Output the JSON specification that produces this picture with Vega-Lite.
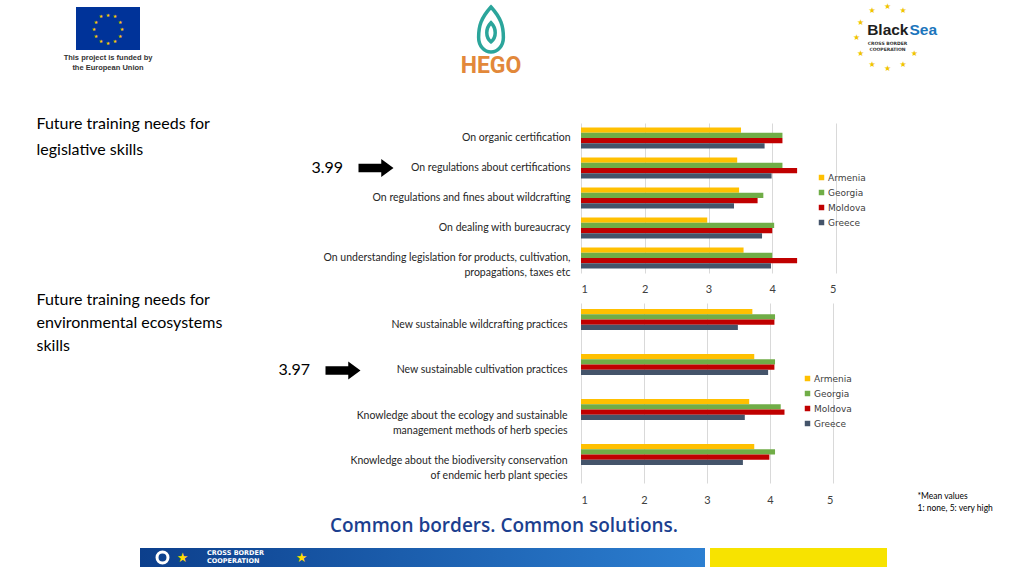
{
  "$schema": "https://vega.github.io/schema/vega-lite/v6.json",
  "background": "white",
  "padding": 0,
  "columns": 6,
  "spacing": {"row": 30, "column": 0},
  "bounds": "flush",
  "align": "each",
  "resolve": {"scale": {"color": "independent", "x": "independent", "y": "independent"}, "legend": {"color": "independent"}},
  "config": {"view": {"stroke": null}, "font": "Lato"},
  "datasets": {
    "stars": [{"star": 0}, {"star": 1}, {"star": 2}, {"star": 3}, {"star": 4}, {"star": 5}, {"star": 6}, {"star": 7}, {"star": 8}, {"star": 9}, {"star": 10}, {"star": 11}],
    "bsStars": [{"star": 0}, {"star": 1}, {"star": 4}, {"star": 5}, {"star": 6}, {"star": 7}, {"star": 8}, {"star": 9}, {"star": 10}, {"star": 11}],
    "legislative": [
      {"item": "On organic certification", "country": "Armenia", "value": 3.51},
      {"item": "On organic certification", "country": "Georgia", "value": 4.16},
      {"item": "On organic certification", "country": "Moldova", "value": 4.16},
      {"item": "On organic certification", "country": "Greece", "value": 3.88},
      {"item": "On regulations about certifications", "country": "Armenia", "value": 3.45},
      {"item": "On regulations about certifications", "country": "Georgia", "value": 4.16},
      {"item": "On regulations about certifications", "country": "Moldova", "value": 4.39},
      {"item": "On regulations about certifications", "country": "Greece", "value": 3.99},
      {"item": "On regulations and fines about wildcrafting", "country": "Armenia", "value": 3.48},
      {"item": "On regulations and fines about wildcrafting", "country": "Georgia", "value": 3.86},
      {"item": "On regulations and fines about wildcrafting", "country": "Moldova", "value": 3.77},
      {"item": "On regulations and fines about wildcrafting", "country": "Greece", "value": 3.40},
      {"item": "On dealing with bureaucracy", "country": "Armenia", "value": 2.98},
      {"item": "On dealing with bureaucracy", "country": "Georgia", "value": 4.03},
      {"item": "On dealing with bureaucracy", "country": "Moldova", "value": 4.00},
      {"item": "On dealing with bureaucracy", "country": "Greece", "value": 3.84},
      {"item": "On understanding legislation for products, cultivation, propagations, taxes etc", "country": "Armenia", "value": 3.55},
      {"item": "On understanding legislation for products, cultivation, propagations, taxes etc", "country": "Georgia", "value": 4.00},
      {"item": "On understanding legislation for products, cultivation, propagations, taxes etc", "country": "Moldova", "value": 4.39},
      {"item": "On understanding legislation for products, cultivation, propagations, taxes etc", "country": "Greece", "value": 3.98}
    ],
    "legislativeMean": [{"item": "On regulations about certifications", "mean": 3.99}],
    "environmental": [
      {"item": "New sustainable wildcrafting practices", "country": "Armenia", "value": 3.72},
      {"item": "New sustainable wildcrafting practices", "country": "Georgia", "value": 4.08},
      {"item": "New sustainable wildcrafting practices", "country": "Moldova", "value": 4.07},
      {"item": "New sustainable wildcrafting practices", "country": "Greece", "value": 3.49},
      {"item": "New sustainable cultivation practices", "country": "Armenia", "value": 3.75},
      {"item": "New sustainable cultivation practices", "country": "Georgia", "value": 4.08},
      {"item": "New sustainable cultivation practices", "country": "Moldova", "value": 4.07},
      {"item": "New sustainable cultivation practices", "country": "Greece", "value": 3.97},
      {"item": "Knowledge about the ecology and sustainable management methods of herb species", "country": "Armenia", "value": 3.67},
      {"item": "Knowledge about the ecology and sustainable management methods of herb species", "country": "Georgia", "value": 4.17},
      {"item": "Knowledge about the ecology and sustainable management methods of herb species", "country": "Moldova", "value": 4.23},
      {"item": "Knowledge about the ecology and sustainable management methods of herb species", "country": "Greece", "value": 3.60},
      {"item": "Knowledge about the biodiversity conservation of endemic herb plant species", "country": "Armenia", "value": 3.75},
      {"item": "Knowledge about the biodiversity conservation of endemic herb plant species", "country": "Georgia", "value": 4.08},
      {"item": "Knowledge about the biodiversity conservation of endemic herb plant species", "country": "Moldova", "value": 3.99},
      {"item": "Knowledge about the biodiversity conservation of endemic herb plant species", "country": "Greece", "value": 3.57}
    ],
    "environmentalMean": [{"item": "New sustainable cultivation practices", "mean": 3.97}]
  },
  "concat": [
    {"width": 76, "height": 86, "data": {"values": []}, "mark": {"type": "rule"}, "encoding": {}},
    {
      "width": 64, "height": 43,
      "title": {"text": ["This project is funded by", "the European Union"], "orient": "bottom", "anchor": "middle", "offset": 4, "baseline": "top", "fontSize": 7.5, "font": "Liberation Sans", "fontWeight": "bold", "color": "#333333", "lineHeight": 9.5},
      "layer": [
        {"data": {"values": [{"logo": "EU flag"}]}, "mark": {"type": "rect", "fill": "#003399", "stroke": null}, "encoding": {}},
        {"data": {"name": "stars"}, "mark": {"type": "text", "text": "★", "color": "#ffcc00", "fontSize": 5, "radius": 14, "font": "DejaVu Sans", "baseline": "middle"}, "encoding": {"theta": {"field": "star", "type": "quantitative", "scale": {"domain": [0, 12]}, "stack": null}}}
      ]
    },
    {"width": 1, "height": 1, "data": {"values": []}, "mark": {"type": "rule"}, "encoding": {}},
    {
      "width": 180, "height": 45,
      "title": {"text": "HEGO", "orient": "bottom", "anchor": "middle", "offset": -4, "baseline": "top", "fontSize": 23, "font": "Roboto", "fontWeight": "bold", "color": "#e2883a"},
      "data": {"values": [{"logo": "HEGO"}]},
      "mark": {"type": "point", "shape": "M 0 -1 C 0.45 -0.5 0.55 -0.15 0.55 0.35 C 0.55 0.72 0.3 1 0 1 C -0.3 1 -0.55 0.72 -0.55 0.35 C -0.55 -0.15 -0.45 -0.5 0 -1 Z M 0 -0.3 C 0.25 -0.05 0.25 0.35 0 0.55 C -0.25 0.35 -0.25 -0.05 0 -0.3 Z", "size": 2025, "filled": false, "stroke": "#2ba59b", "strokeWidth": 3.5, "opacity": 1},
      "encoding": {}
    },
    {"width": 1, "height": 1, "data": {"values": []}, "mark": {"type": "rule"}, "encoding": {}},
    {
      "width": 1, "height": 62,
      "layer": [
        {"data": {"name": "bsStars"}, "mark": {"type": "text", "text": "★", "color": "#f0c400", "fontSize": 8, "radius": 31, "font": "DejaVu Sans", "baseline": "middle"}, "encoding": {"theta": {"field": "star", "type": "quantitative", "scale": {"domain": [0, 12]}, "stack": null}}},
        {"data": {"values": [{"logo": "Black Sea"}]}, "mark": {"type": "text", "text": "Black", "align": "right", "baseline": "middle", "dx": 21, "dy": -8, "font": "Liberation Sans", "fontWeight": "bold", "fontSize": 15.5, "color": "#1e1e1e"}, "encoding": {}},
        {"data": {"values": [{"logo": "Black Sea"}]}, "mark": {"type": "text", "text": "Sea", "align": "left", "baseline": "middle", "dx": 22, "dy": -8, "font": "Liberation Sans", "fontWeight": "bold", "fontSize": 15.5, "color": "#1b75bc"}, "encoding": {}},
        {"data": {"values": [{"logo": "Black Sea"}]}, "mark": {"type": "text", "text": ["CROSS BORDER", "COOPERATION"], "align": "center", "baseline": "middle", "dx": 0, "dy": 6, "font": "DejaVu Sans", "fontWeight": "bold", "fontSize": 4.5, "lineHeight": 5.5, "color": "#333333"}, "encoding": {}}
      ]
    },

    {"width": 1, "height": 1, "data": {"values": []}, "mark": {"type": "rule"}, "encoding": {}},
    {"width": 1, "height": 1, "data": {"values": []}, "mark": {"type": "rule"}, "encoding": {}},
    {"width": 1, "height": 1, "data": {"values": []}, "mark": {"type": "rule"}, "encoding": {}},
    {"width": 1, "height": 1, "data": {"values": []}, "mark": {"type": "rule"}, "encoding": {}},
    {
      "width": 255, "height": 150,
      "encoding": {
        "y": {
          "field": "item", "type": "nominal",
          "scale": {"domain": ["On organic certification", "On regulations about certifications", "On regulations and fines about wildcrafting", "On dealing with bureaucracy", "On understanding legislation for products, cultivation, propagations, taxes etc"], "paddingInner": 0.3, "paddingOuter": 0.15},
          "axis": {
            "title": ["Future training needs for", "legislative skills"],
            "titleX": -545, "titleY": -8, "titleAngle": 0, "titleAlign": "left", "titleBaseline": "top",
            "titleFont": "Lato", "titleFontSize": 16, "titleFontWeight": "normal", "titleColor": "#000000", "titleLineHeight": 26,
            "domain": false, "ticks": false, "labelPadding": 11, "labelFont": "Lato", "labelFontSize": 10.5, "labelColor": "#262626", "labelLimit": 400, "labelLineHeight": 15,
            "labelExpr": "datum.label == 'On understanding legislation for products, cultivation, propagations, taxes etc' ? ['On understanding legislation for products, cultivation,', 'propagations, taxes etc'] : datum.label"
          }
        }
      },
      "layer": [
        {
          "data": {"name": "legislative"},
          "mark": {"type": "bar"},
          "encoding": {
            "yOffset": {"field": "country", "type": "nominal", "scale": {"domain": ["Armenia", "Georgia", "Moldova", "Greece"]}},
            "x": {"field": "value", "type": "quantitative", "scale": {"domain": [1, 5], "nice": false, "zero": false},
              "axis": {"title": null, "values": [1, 2, 3, 4, 5], "format": "d", "grid": true, "gridColor": "#d9d9d9", "domain": false, "ticks": false, "labelPadding": 10, "labelFont": "Lato", "labelFontSize": 11, "labelColor": "#404040"}},
            "x2": {"datum": 1},
            "color": {"field": "country", "type": "nominal",
              "scale": {"domain": ["Armenia", "Georgia", "Moldova", "Greece"], "range": ["#ffc000", "#70ad47", "#c00000", "#44546a"]},
              "legend": {"orient": "none", "legendX": 236, "legendY": 50, "title": null, "symbolType": "square", "symbolSize": 30, "symbolStrokeWidth": 0, "labelFont": "DejaVu Sans", "labelFontSize": 9, "labelColor": "#404040", "rowPadding": 5, "padding": 0, "labelOffset": 2}}
          }
        },
        {
          "data": {"name": "legislativeMean"},
          "mark": {"type": "text", "align": "right", "baseline": "middle", "dx": -238, "font": "Lato", "fontSize": 16, "color": "#000000"},
          "encoding": {"x": {"datum": 1}, "text": {"field": "mean", "type": "quantitative", "format": ".2f"}}
        },
        {
          "data": {"name": "legislativeMean"},
          "mark": {"type": "point", "shape": "M -1 -0.24 L 0.3 -0.24 L 0.3 -0.52 L 1 0 L 0.3 0.52 L 0.3 0.24 L -1 0.24 Z", "size": 1225, "filled": true, "color": "#000000", "opacity": 1, "strokeWidth": 0, "xOffset": -205},
          "encoding": {"x": {"datum": 1}}
        }
      ]
    },
    {"width": 1, "height": 1, "data": {"values": []}, "mark": {"type": "rule"}, "encoding": {}},

    {"width": 1, "height": 215, "data": {"values": []}, "mark": {"type": "rule"}, "encoding": {}},
    {"width": 1, "height": 1, "data": {"values": []}, "mark": {"type": "rule"}, "encoding": {}},
    {"width": 1, "height": 1, "data": {"values": []}, "mark": {"type": "rule"}, "encoding": {}},
    {"width": 1, "height": 1, "data": {"values": []}, "mark": {"type": "rule"}, "encoding": {}},
    {
      "width": 252, "height": 180,
      "encoding": {
        "y": {
          "field": "item", "type": "nominal",
          "scale": {"domain": ["New sustainable wildcrafting practices", "New sustainable cultivation practices", "Knowledge about the ecology and sustainable management methods of herb species", "Knowledge about the biodiversity conservation of endemic herb plant species"], "paddingInner": 0.267, "paddingOuter": 0.133},
          "axis": {
            "title": ["Future training needs for", "environmental ecosystems", "skills"],
            "titleX": -545, "titleY": -12, "titleAngle": 0, "titleAlign": "left", "titleBaseline": "top",
            "titleFont": "Lato", "titleFontSize": 16, "titleFontWeight": "normal", "titleColor": "#000000", "titleLineHeight": 23,
            "domain": false, "ticks": false, "labelPadding": 14, "labelFont": "Lato", "labelFontSize": 10.5, "labelColor": "#262626", "labelLimit": 400, "labelLineHeight": 15,
            "labelExpr": "datum.label == 'Knowledge about the ecology and sustainable management methods of herb species' ? ['Knowledge about the ecology and sustainable', 'management methods of herb species'] : (datum.label == 'Knowledge about the biodiversity conservation of endemic herb plant species' ? ['Knowledge about the biodiversity conservation', 'of endemic herb plant species'] : datum.label)"
          }
        }
      },
      "layer": [
        {
          "data": {"name": "environmental"},
          "mark": {"type": "bar"},
          "encoding": {
            "yOffset": {"field": "country", "type": "nominal", "scale": {"domain": ["Armenia", "Georgia", "Moldova", "Greece"]}},
            "x": {"field": "value", "type": "quantitative", "scale": {"domain": [1, 5], "nice": false, "zero": false},
              "axis": {"title": ["*Mean values", "1: none, 5: very high"], "titleX": 336, "titleY": 8, "titleAngle": 0, "titleAlign": "left", "titleBaseline": "top", "titleFont": "Lato", "titleFontSize": 8.5, "titleFontWeight": "normal", "titleColor": "#000000", "titleLineHeight": 12,
                "values": [1, 2, 3, 4, 5], "format": "d", "grid": true, "gridColor": "#d9d9d9", "domain": false, "ticks": false, "labelPadding": 11, "labelFont": "Lato", "labelFontSize": 11, "labelColor": "#404040"}},
            "x2": {"datum": 1},
            "color": {"field": "country", "type": "nominal",
              "scale": {"domain": ["Armenia", "Georgia", "Moldova", "Greece"], "range": ["#ffc000", "#70ad47", "#c00000", "#44546a"]},
              "legend": {"orient": "none", "legendX": 222, "legendY": 71, "title": null, "symbolType": "square", "symbolSize": 30, "symbolStrokeWidth": 0, "labelFont": "DejaVu Sans", "labelFontSize": 9, "labelColor": "#404040", "rowPadding": 5, "padding": 0, "labelOffset": 2}}
          }
        },
        {
          "data": {"name": "environmentalMean"},
          "mark": {"type": "text", "align": "right", "baseline": "middle", "dx": -271, "font": "Lato", "fontSize": 16, "color": "#000000"},
          "encoding": {"x": {"datum": 1}, "text": {"field": "mean", "type": "quantitative", "format": ".2f"}}
        },
        {
          "data": {"name": "environmentalMean"},
          "mark": {"type": "point", "shape": "M -1 -0.24 L 0.3 -0.24 L 0.3 -0.52 L 1 0 L 0.3 0.52 L 0.3 0.24 L -1 0.24 Z", "size": 1225, "filled": true, "color": "#000000", "opacity": 1, "strokeWidth": 0, "xOffset": -238},
          "encoding": {"x": {"datum": 1}}
        }
      ]
    },
    {"width": 1, "height": 1, "data": {"values": []}, "mark": {"type": "rule"}, "encoding": {}},

    {"width": 1, "height": 1, "data": {"values": []}, "mark": {"type": "rule"}, "encoding": {}},
    {"width": 1, "height": 1, "data": {"values": []}, "mark": {"type": "rule"}, "encoding": {}},
    {
      "width": 261, "height": 19,
      "title": {"text": ["CROSS BORDER", "COOPERATION"], "orient": "top", "anchor": "start", "dx": 67, "offset": -24, "baseline": "bottom", "fontSize": 6.5, "fontWeight": "bold", "font": "DejaVu Sans", "color": "#ffffff", "lineHeight": 7.5},
      "layer": [
        {"data": {"values": [{"part": "Cross border cooperation band"}]}, "mark": {"type": "rect", "stroke": null, "fill": {"gradient": "linear", "x1": 0, "y1": 0, "x2": 1, "y2": 0, "stops": [{"offset": 0, "color": "#0c3f8c"}, {"offset": 1, "color": "#1b5dac"}]}}, "encoding": {}},
        {"data": {"values": [{"part": "swirl"}]}, "mark": {"type": "point", "shape": "circle", "filled": false, "stroke": "#ffffff", "strokeWidth": 3, "size": 120, "opacity": 1, "xOffset": -108}, "encoding": {}},
        {"data": {"values": [{"part": "star"}]}, "mark": {"type": "text", "text": "★", "font": "DejaVu Sans", "fontSize": 13, "color": "#ffdd00", "baseline": "middle", "dx": -88}, "encoding": {}},
        {"data": {"values": [{"part": "star"}]}, "mark": {"type": "text", "text": "★", "font": "DejaVu Sans", "fontSize": 13, "color": "#ffdd00", "baseline": "middle", "dx": 31}, "encoding": {}}
      ]
    },
    {
      "width": 180, "height": 19,
      "data": {"values": [{"part": "band"}]},
      "mark": {"type": "rect", "stroke": null, "fill": {"gradient": "linear", "x1": 0, "y1": 0, "x2": 1, "y2": 0, "stops": [{"offset": 0, "color": "#1b5dac"}, {"offset": 1, "color": "#2571c2"}]}},
      "encoding": {}
    },
    {
      "width": 306, "height": 19,
      "title": {"text": "Common borders. Common solutions.", "orient": "top", "anchor": "middle", "dx": -230, "offset": 12, "fontSize": 19, "font": "Open Sans", "fontWeight": 600, "color": "#1c3f8f"},
      "data": {"values": [{"part": "band"}]},
      "mark": {"type": "rect", "stroke": null, "fill": {"gradient": "linear", "x1": 0, "y1": 0, "x2": 1, "y2": 0, "stops": [{"offset": 0, "color": "#2571c2"}, {"offset": 0.405, "color": "#2c7fd1"}, {"offset": 0.405, "color": "#ffffff"}, {"offset": 0.422, "color": "#ffffff"}, {"offset": 0.422, "color": "#f7e300"}, {"offset": 1, "color": "#f7e300"}]}},
      "encoding": {}
    },
    {"width": 1, "height": 1, "data": {"values": []}, "mark": {"type": "rule"}, "encoding": {}}
  ]
}
